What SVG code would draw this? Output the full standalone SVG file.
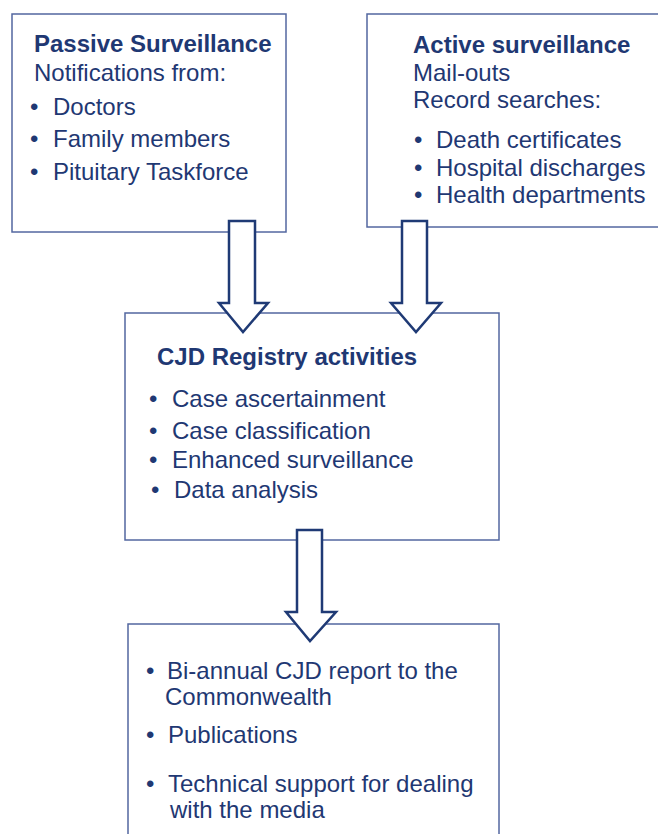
<svg xmlns="http://www.w3.org/2000/svg" width="658" height="834" viewBox="0 0 658 834">
<style>
.box{fill:#fff;stroke:#5367a0;stroke-width:1.5}
.arr{fill:#fff;stroke:#1f3a75;stroke-width:2.5;stroke-linejoin:miter}
text{font-family:"Liberation Sans",Arial,sans-serif;font-size:24px;fill:#1f3873}
.b{font-weight:bold}
</style>
<rect width="658" height="834" fill="#fff"/>
<g id="passive">
<rect class="box" x="12" y="14" width="274" height="218"/>
<text class="b" x="34" y="52">Passive Surveillance</text>
<text x="34" y="81">Notifications from:</text>
<text x="30" y="115">•</text><text x="53" y="115">Doctors</text>
<text x="30" y="147">•</text><text x="53" y="147">Family members</text>
<text x="30" y="180">•</text><text x="53" y="180">Pituitary Taskforce</text>
</g>
<g id="active">
<rect class="box" x="367" y="14" width="300" height="213"/>
<text class="b" x="413" y="53">Active surveillance</text>
<text x="413" y="81">Mail-outs</text>
<text x="413" y="108">Record searches:</text>
<text x="414" y="148">•</text><text x="436" y="148">Death certificates</text>
<text x="414" y="176">•</text><text x="436" y="176">Hospital discharges</text>
<text x="414" y="203">•</text><text x="436" y="203">Health departments</text>
</g>
<g id="registry">
<rect class="box" x="125" y="313" width="374" height="227"/>
<text class="b" x="157" y="365">CJD Registry activities</text>
<text x="149" y="407">•</text><text x="172" y="407">Case ascertainment</text>
<text x="149" y="439">•</text><text x="172" y="439">Case classification</text>
<text x="149" y="468">•</text><text x="172" y="468">Enhanced surveillance</text>
<text x="151" y="498">•</text><text x="174" y="498">Data analysis</text>
</g>
<g id="outputs">
<rect class="box" x="128" y="624" width="371" height="220"/>
<text x="146" y="679">•</text><text x="167" y="679">Bi-annual CJD report to the</text>
<text x="165" y="705">Commonwealth</text>
<text x="146" y="743">•</text><text x="168" y="743">Publications</text>
<text x="146" y="792">•</text><text x="168" y="792">Technical support for dealing</text>
<text x="170" y="818">with the media</text>
</g>
<g id="connectors">
<polygon class="arr" points="229,221 255,221 255,303 268,303 243,332 219,303 229,303"/>
<polygon class="arr" points="402,221 427,221 427,303 441,303 416,332 391,303 402,303"/>
<polygon class="arr" points="297,530 322,530 322,612 336,612 310,641 286,612 297,612"/>
</g>
</svg>
